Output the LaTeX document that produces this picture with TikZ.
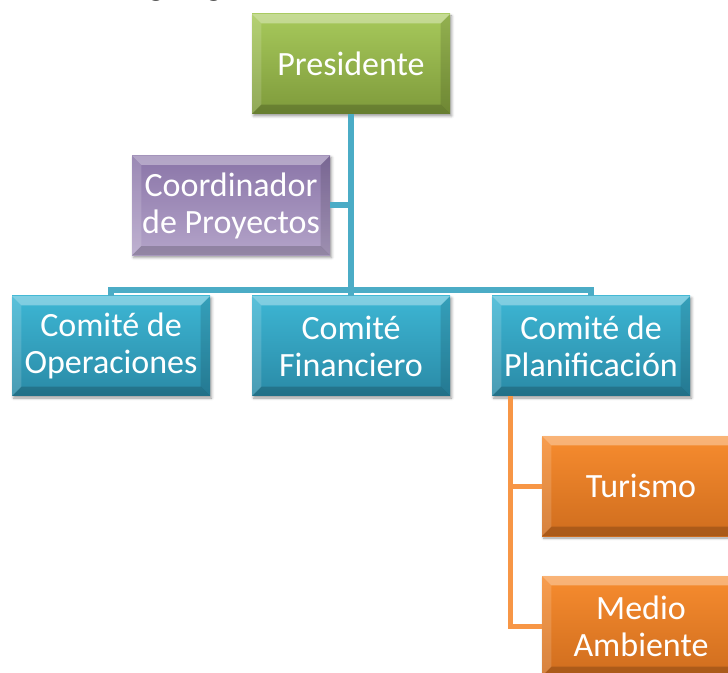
\documentclass[tikz,border=0pt]{standalone}
\usepackage{fontspec}
\setmainfont{Carlito}
\usepackage{xcolor}
\usetikzlibrary{calc}
\usetikzlibrary{shadows.blur}
\definecolor{greentop}{HTML}{A7C95B}
\definecolor{greenbot}{HTML}{7E9A3B}
\definecolor{purptop}{HTML}{8A75A8}
\definecolor{purpbot}{HTML}{B4A4C9}
\definecolor{bluetop}{HTML}{3DB6D4}
\definecolor{bluebot}{HTML}{2A8AA6}
\definecolor{orantop}{HTML}{F78C2F}
\definecolor{oranbot}{HTML}{CF6D1E}
\definecolor{bluelink}{HTML}{4BACC6}
\definecolor{oranlink}{HTML}{F79646}
\tikzset{
	orgbox/.style 2 args={
			draw=none, top color=#1, bottom color=#2, text=white, align=center,
			minimum width=148.5pt, minimum height=75pt, inner sep=2pt,
			font=\fontsize{25.5}{27.75}\selectfont,
			blur shadow={shadow xshift=1.2pt, shadow yshift=-1.5pt, shadow blur radius=2pt},
			path picture={
					\coordinate (nw) at (path picture bounding box.north west);
					\coordinate (ne) at (path picture bounding box.north east);
					\coordinate (sw) at (path picture bounding box.south west);
					\coordinate (se) at (path picture bounding box.south east);
					\fill[white, opacity=.35] (nw) -- (ne) -- ([shift={(-7pt,-7pt)}]ne) -- ([shift={(7pt,-7pt)}]nw) -- cycle;
					\fill[white, opacity=.15] (nw) -- ([shift={(7pt,-7pt)}]nw) -- ([shift={(7pt,7pt)}]sw) -- (sw) -- cycle;
					\fill[black, opacity=.12] (ne) -- (se) -- ([shift={(-7pt,7pt)}]se) -- ([shift={(-7pt,-7pt)}]ne) -- cycle;
					\fill[black, opacity=.18] (sw) -- ([shift={(7pt,7pt)}]sw) -- ([shift={(-7pt,7pt)}]se) -- (se) -- cycle;
				}
		},
	link/.style={draw=#1, line width=4.5pt, line join=miter}
}

\begin{document}
\begin{tikzpicture}[x=0.75pt, y=-0.75pt]
	\useasboundingbox (0,0) rectangle (728,673);

	% title, cut off by the page
	\node[anchor=base west, inner sep=0pt, font=\fontsize{25}{30}\selectfont\bfseries] (title) at (114,-4.5) {Organigrama};

	\node[orgbox={greentop}{greenbot}] (pres) at (351,64) {Presidente};
	\node[orgbox={purptop}{purpbot}] (coord) at (231,205.5) {Coordinador\\de Proyectos};
	\node[orgbox={bluetop}{bluebot}] (ope) at (111,346) {Comité de\\Operaciones};
	\node[orgbox={bluetop}{bluebot}] (fin) at (351,346) {Comité\\Financiero};
	\node[orgbox={bluetop}{bluebot}] (pla) at (591,346) {Comité de\\Planificación};
	\node[orgbox={orantop}{oranbot}] (tur) at (641,486) {Turismo};
	\node[orgbox={orantop}{oranbot}] (med) at (641,626) {Medio\\Ambiente};

	\coordinate (bus) at (0,290);
	\coordinate (trunk) at (510,0);

	\draw[link=bluelink] (pres.south) -- (fin.north);
	\draw[link=bluelink] (coord.east) -- (coord.east -| pres.south);
	\draw[link=bluelink] (ope.north) -- (ope.north |- bus) -- (pla.north |- bus) -- (pla.north);
	\draw[link=oranlink, line width=3.75pt] (pla.south -| trunk) -- (trunk |- med.west) -- (med.west);
	\draw[link=oranlink, line width=3.75pt] (trunk |- tur.west) -- (tur.west);
\end{tikzpicture}
\end{document}
